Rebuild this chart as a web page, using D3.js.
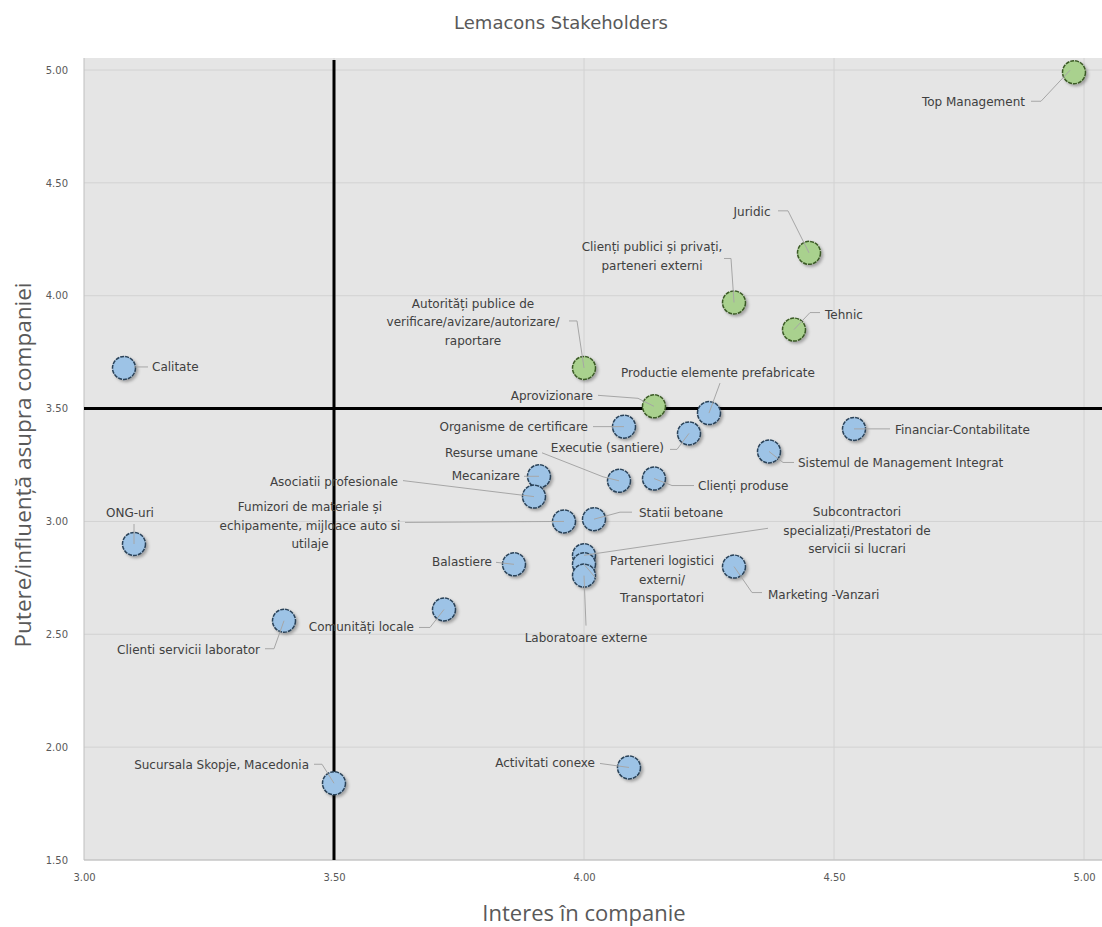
<!DOCTYPE html>
<html>
<head>
<meta charset="utf-8">
<script src="https://cdn.jsdelivr.net/npm/d3@7"></script>
<style>
  body { margin: 0; background: #fff; }
</style>
</head>
<body>
<script>
var w = 1102;
var h = 927;

// stakeholders: name, interest (x), power (y), group
var names = [
  'Top Management', 'Juridic', 'Clienți publici și privați,\nparteneri externi', 'Tehnic',
  'Autorități publice de\nverificare/avizare/autorizare/\nraportare', 'Aprovizionare',
  'Calitate', 'Productie elemente prefabricate', 'Organisme de certificare', 'Executie (santiere)',
  'Financiar-Contabilitate', 'Sistemul de Management Integrat', 'Mecanizare', 'Resurse  umane',
  'Clienți produse', 'Asociatii profesionale',
  'Fumizori de materiale și\nechipamente, mijloace auto si\nutilaje', 'Statii betoane', 'ONG-uri',
  'Subcontractori\nspecializați/Prestatori de\nservicii si lucrari',
  'Parteneri logistici\nexterni/\nTransportatori', 'Laboratoare externe', 'Balastiere',
  'Marketing -Vanzari', 'Comunități locale', 'Clienti servicii laborator',
  'Sucursala Skopje, Macedonia', 'Activitati conexe'
];
var interest = [4.98, 4.45, 4.30, 4.42, 4.00, 4.14, 3.08, 4.25, 4.08, 4.21, 4.54, 4.37, 3.91, 4.07,
  4.14, 3.90, 3.96, 4.02, 3.10, 4.00, 4.00, 4.00, 3.86, 4.30, 3.72, 3.40, 3.50, 4.09];
var power = [4.99, 4.19, 3.97, 3.85, 3.68, 3.51, 3.68, 3.48, 3.42, 3.39, 3.41, 3.31, 3.20, 3.18,
  3.19, 3.11, 3.00, 3.01, 2.90, 2.85, 2.81, 2.76, 2.81, 2.80, 2.61, 2.56, 1.84, 1.91];
var group = ['key', 'key', 'key', 'key', 'key', 'key', 'other', 'other', 'other', 'other', 'other',
  'other', 'other', 'other', 'other', 'other', 'other', 'other', 'other', 'other', 'other', 'other',
  'other', 'other', 'other', 'other', 'other', 'other'];

var xTicks = [3.0, 3.5, 4.0, 4.5, 5.0];
var yTicks = [1.5, 2.0, 2.5, 3.0, 3.5, 4.0, 4.5, 5.0];
var xSplit = 3.5;
var ySplit = 3.5;

// label placement relative to marker: dx, dy (first line), anchor, leader points
var labelLayout = [
  {dx: -49, dy: 30, a: 'end', l: [[-43, 29], [-33, 29], [-4, -2]]},
  {dx: -57, dy: -41, a: 'middle', l: [[-31, -42], [-21, -42], [0, 0]]},
  {dx: -82, dy: -55, a: 'middle', l: [[-10, -44], [-3, -44], [0, 0]]},
  {dx: 31, dy: -15, a: 'start', l: [[26, -17], [16, -17], [0, 0]]},
  {dx: -111, dy: -64, a: 'middle', l: [[-15, -47], [-7, -47], [0, 0]]},
  {dx: -61, dy: -10, a: 'end', l: [[-56, -11], [-16, -8], [0, 0]]},
  {dx: 28, dy: -1, a: 'start', l: [[10, -1], [24, -1]]},
  {dx: 9, dy: -40, a: 'middle', l: [[11, -30], [0, 0]]},
  {dx: -36, dy: 0, a: 'end', l: [[-31, 0], [0, 0]]},
  {dx: -25, dy: 15, a: 'end', l: [[-19, 16], [-12, 16], [0, 0]]},
  {dx: 41, dy: 1, a: 'start', l: [[0, 0], [14, 0], [36, 0]]},
  {dx: 29, dy: 12, a: 'start', l: [[0, 0], [14, 11], [25, 11]]},
  {dx: -19, dy: 0, a: 'end', l: [[-15, 0], [0, 0]]},
  {dx: -81, dy: -28, a: 'end', l: [[-77, -28], [-16, -4], [0, 0]]},
  {dx: 44, dy: 7, a: 'start', l: [[0, 0], [18, 7], [40, 7]]},
  {dx: -136, dy: -15, a: 'end', l: [[-131, -16], [0, 0]]},
  {dx: -254, dy: -14, a: 'middle', l: [[-159, 1], [0, 0]]},
  {dx: 45, dy: -6, a: 'start', l: [[0, 0], [26, -7], [38, -7]]},
  {dx: -4, dy: -31, a: 'middle', l: [[0, -20], [0, 0]]},
  {dx: 273, dy: -43, a: 'middle', l: [[184, -27], [0, 0]]},
  {dx: 78, dy: -3, a: 'middle', l: [[0, 0], [12, 14]]},
  {dx: 2, dy: 62, a: 'middle', l: [[2, 50], [0, 0]]},
  {dx: -22, dy: -2, a: 'end', l: [[-18, -2], [0, 0]]},
  {dx: 34, dy: 28, a: 'start', l: [[0, 0], [18, 26], [28, 26]]},
  {dx: -30, dy: 18, a: 'end', l: [[-25, 18], [-14, 18], [0, 0]]},
  {dx: -24, dy: 29, a: 'end', l: [[-19, 28], [-10, 28], [0, 0]]},
  {dx: -25, dy: -18, a: 'end', l: [[-20, -19], [-12, -19], [0, 0]]},
  {dx: -34, dy: -4, a: 'end', l: [[-29, -4], [0, 0]]}
];

var data = names.map(function(n, i) {
  return {name: n, x: interest[i], y: power[i], g: group[i], lab: labelLayout[i]};
});

var plot = {left: 84, right: 1102, top: 58, bottom: 860};

var x = d3.scaleLinear().domain([3, 5]).range([84, 1084]);
var y = d3.scaleLinear().domain([1.5, 5]).range([860, 70]);

var svg = d3.select('body')
  .append('svg')
  .attr('width', w)
  .attr('height', h);

var defs = svg.append('defs');
var f = defs.append('filter').attr('id', 'shadow')
  .attr('x', '-50%').attr('y', '-50%').attr('width', '200%').attr('height', '200%');
f.append('feDropShadow')
  .attr('dx', 2).attr('dy', 2).attr('stdDeviation', 1.8)
  .attr('flood-color', '#000').attr('flood-opacity', 0.3);

// plot background
svg.append('rect')
  .attr('x', plot.left)
  .attr('y', plot.top)
  .attr('width', plot.right - plot.left)
  .attr('height', plot.bottom - plot.top)
  .attr('fill', '#e5e5e5');

// gridlines
svg.append('g')
  .selectAll('line')
  .data(yTicks)
  .enter()
  .append('line')
  .attr('x1', plot.left).attr('x2', plot.right)
  .attr('y1', function(d) { return y(d); })
  .attr('y2', function(d) { return y(d); })
  .attr('stroke', '#d2d2d2')
  .attr('stroke-width', 1);

svg.append('g')
  .selectAll('line')
  .data(xTicks.slice(1))
  .enter()
  .append('line')
  .attr('y1', plot.top).attr('y2', plot.bottom)
  .attr('x1', function(d) { return x(d); })
  .attr('x2', function(d) { return x(d); })
  .attr('stroke', '#d2d2d2')
  .attr('stroke-width', 1);

// axes
var xAxis = d3.axisBottom(x).tickValues(xTicks).tickFormat(d3.format('.2f')).tickSize(0).tickPadding(14);
var yAxis = d3.axisLeft(y).tickValues(yTicks).tickFormat(d3.format('.2f')).tickSize(0).tickPadding(16);

var gx = svg.append('g').attr('transform', 'translate(0,' + plot.bottom + ')').call(xAxis);
var gy = svg.append('g').attr('transform', 'translate(' + plot.left + ',0)').call(yAxis);
[gx, gy].forEach(function(g) {
  g.select('.domain').remove();
  g.attr('font-family', null).attr('font-size', null);
  g.selectAll('text')
    .attr('fill', '#595959')
    .attr('font-size', '10px')
    .attr('font-family', '"DejaVu Sans", sans-serif');
});

svg.append('line')
  .attr('x1', plot.left).attr('x2', plot.left)
  .attr('y1', plot.top).attr('y2', plot.bottom)
  .attr('stroke', '#bfbfbf');
svg.append('line')
  .attr('x1', plot.left).attr('x2', plot.right)
  .attr('y1', plot.bottom).attr('y2', plot.bottom)
  .attr('stroke', '#bfbfbf');

// quadrant lines
svg.append('line')
  .attr('x1', x(xSplit)).attr('x2', x(xSplit))
  .attr('y1', plot.top + 2).attr('y2', plot.bottom)
  .attr('stroke', '#000')
  .attr('stroke-width', 3);
svg.append('line')
  .attr('x1', plot.left).attr('x2', plot.right)
  .attr('y1', y(ySplit)).attr('y2', y(ySplit))
  .attr('stroke', '#000')
  .attr('stroke-width', 3);

// markers
svg.append('g')
  .selectAll('circle')
  .data(data)
  .enter()
  .append('circle')
  .attr('cx', function(d) { return x(d.x); })
  .attr('cy', function(d) { return y(d.y); })
  .attr('r', 11.5)
  .attr('fill', function(d) { return d.g === 'key' ? '#a9d18e' : '#9dc3e6'; })
  .attr('stroke', function(d) { return d.g === 'key' ? '#3b5a26' : '#2a4258'; })
  .attr('stroke-width', 1.5)
  .attr('stroke-dasharray', '4,1')
  .attr('filter', 'url(#shadow)');

// leader lines
var line = d3.line();
svg.append('g')
  .selectAll('path')
  .data(data)
  .enter()
  .append('path')
  .attr('d', function(d) {
    var px = x(d.x), py = y(d.y);
    return line(d.lab.l.map(function(p) { return [px + p[0], py + p[1]]; }));
  })
  .attr('fill', 'none')
  .attr('stroke', '#a6a6a6')
  .attr('stroke-width', 1);

// labels
var labels = svg.append('g')
  .selectAll('text')
  .data(data)
  .enter()
  .append('text')
  .attr('x', function(d) { return x(d.x) + d.lab.dx; })
  .attr('y', function(d) { return y(d.y) + d.lab.dy; })
  .attr('text-anchor', function(d) { return d.lab.a; })
  .attr('dominant-baseline', 'central')
  .attr('font-family', '"DejaVu Sans", sans-serif')
  .attr('font-size', '12px')
  .attr('fill', '#404040');

labels.each(function(d) {
  var t = d3.select(this);
  d.name.split('\n').forEach(function(s, i) {
    t.append('tspan')
      .attr('x', x(d.x) + d.lab.dx)
      .attr('dy', i === 0 ? 0 : 18.5)
      .text(s);
  });
});

// titles
svg.append('text')
  .attr('x', 561).attr('y', 22)
  .attr('text-anchor', 'middle')
  .attr('dominant-baseline', 'central')
  .attr('font-size', '18px')
  .attr('font-family', '"DejaVu Sans", sans-serif')
  .attr('fill', '#595959')
  .text('Lemacons Stakeholders');

svg.append('text')
  .attr('x', 584).attr('y', 912)
  .attr('text-anchor', 'middle')
  .attr('dominant-baseline', 'central')
  .attr('font-size', '22px')
  .attr('font-family', '"Open Sans", sans-serif')
  .attr('fill', '#595959')
  .text('Interes în companie');

svg.append('text')
  .attr('transform', 'translate(22,465) rotate(-90)')
  .attr('text-anchor', 'middle')
  .attr('dominant-baseline', 'central')
  .attr('font-size', '22.5px')
  .attr('font-family', '"Open Sans", sans-serif')
  .attr('fill', '#595959')
  .text('Putere/influență asupra companiei');
</script>
</body>
</html>
